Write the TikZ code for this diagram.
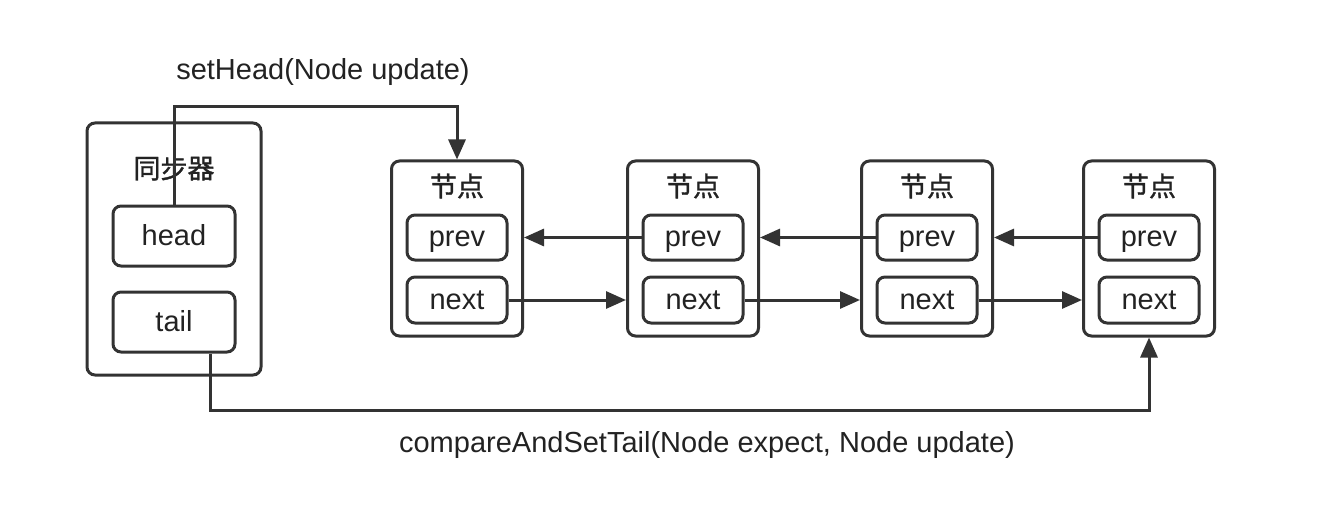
\documentclass[tikz,border=0pt]{standalone}
\usepackage{fontspec}
\setmainfont{Liberation Sans}
\newfontfamily\cjk[FakeBold=1.2]{Noto Sans CJK SC}
\usetikzlibrary{positioning,arrows.meta}

\definecolor{linegray}{HTML}{333333}
\definecolor{textgray}{HTML}{222222}

\begin{document}
\begin{tikzpicture}[x=1pt,y=-1pt,
  outerbox/.style={draw=linegray,line width=3pt,rounded corners=8pt,
    minimum width=131pt,minimum height=175pt,inner sep=0pt},
  fieldbox/.style={draw=linegray,line width=3pt,rounded corners=8pt,
    minimum width=100pt,minimum height=46pt,inner sep=0pt,
    text height=22pt,text depth=4pt,
    text=textgray,font=\fontsize{29}{34}\selectfont},
  titletext/.style={text=textgray,font=\cjk\fontsize{27}{32}\selectfont},
  calltext/.style={text=textgray,font=\fontsize{29}{34}\selectfont},
  link/.style={draw=linegray,line width=3pt,
    -{Triangle[length=20pt,width=17pt]}}]

% Page frame (pixel grid of the reference, y runs downwards)
\useasboundingbox (0,0) rectangle (1344,524);

% Synchroniser box with head / tail
\node[outerbox,minimum width=174pt,minimum height=252pt] (sync) at (174,249) {};
\node[titletext] (synctitle) at (174,168) {同步器};
\node[fieldbox,minimum width=122pt,minimum height=60pt] (head) at (174,236) {head};
\node[fieldbox,minimum width=122pt,minimum height=60pt] (tail) at (174,322) {tail};

% Queue nodes (column centres)
\foreach \i/\x in {1/457,2/693,3/927,4/1149} {
  \node[outerbox] (node\i) at (\x,248.5) {};
  \node[titletext] (title\i) at (\x,186) {节点};
  \node[fieldbox,minimum height=45pt] (prev\i) at (\x,237.5) {prev};
  \node[fieldbox] (next\i) at (\x,300) {next};
}

% prev links point left, next links point right
\foreach \i/\j in {1/2,2/3,3/4} {
  \draw[link] (prev\j.west) -- (prev\j.west -| node\i.east);
  \draw[link] (next\i.east) -- (next\i.east -| node\j.west);
}

% head -> first node
\coordinate (headturn) at (457,107);
\draw[link] (head.north) |- (headturn) -- (node1.north);
\node[calltext] (sethead) at (323,72) {setHead(Node update)};

% tail -> last node
\coordinate (tailturn) at (210,410);
\draw[link] (tail.south -| tailturn) -- (tailturn) -| (node4.south);
\node[calltext] (settail) at (707,445) {compareAndSetTail(Node expect, Node update)};

\end{tikzpicture}
\end{document}
